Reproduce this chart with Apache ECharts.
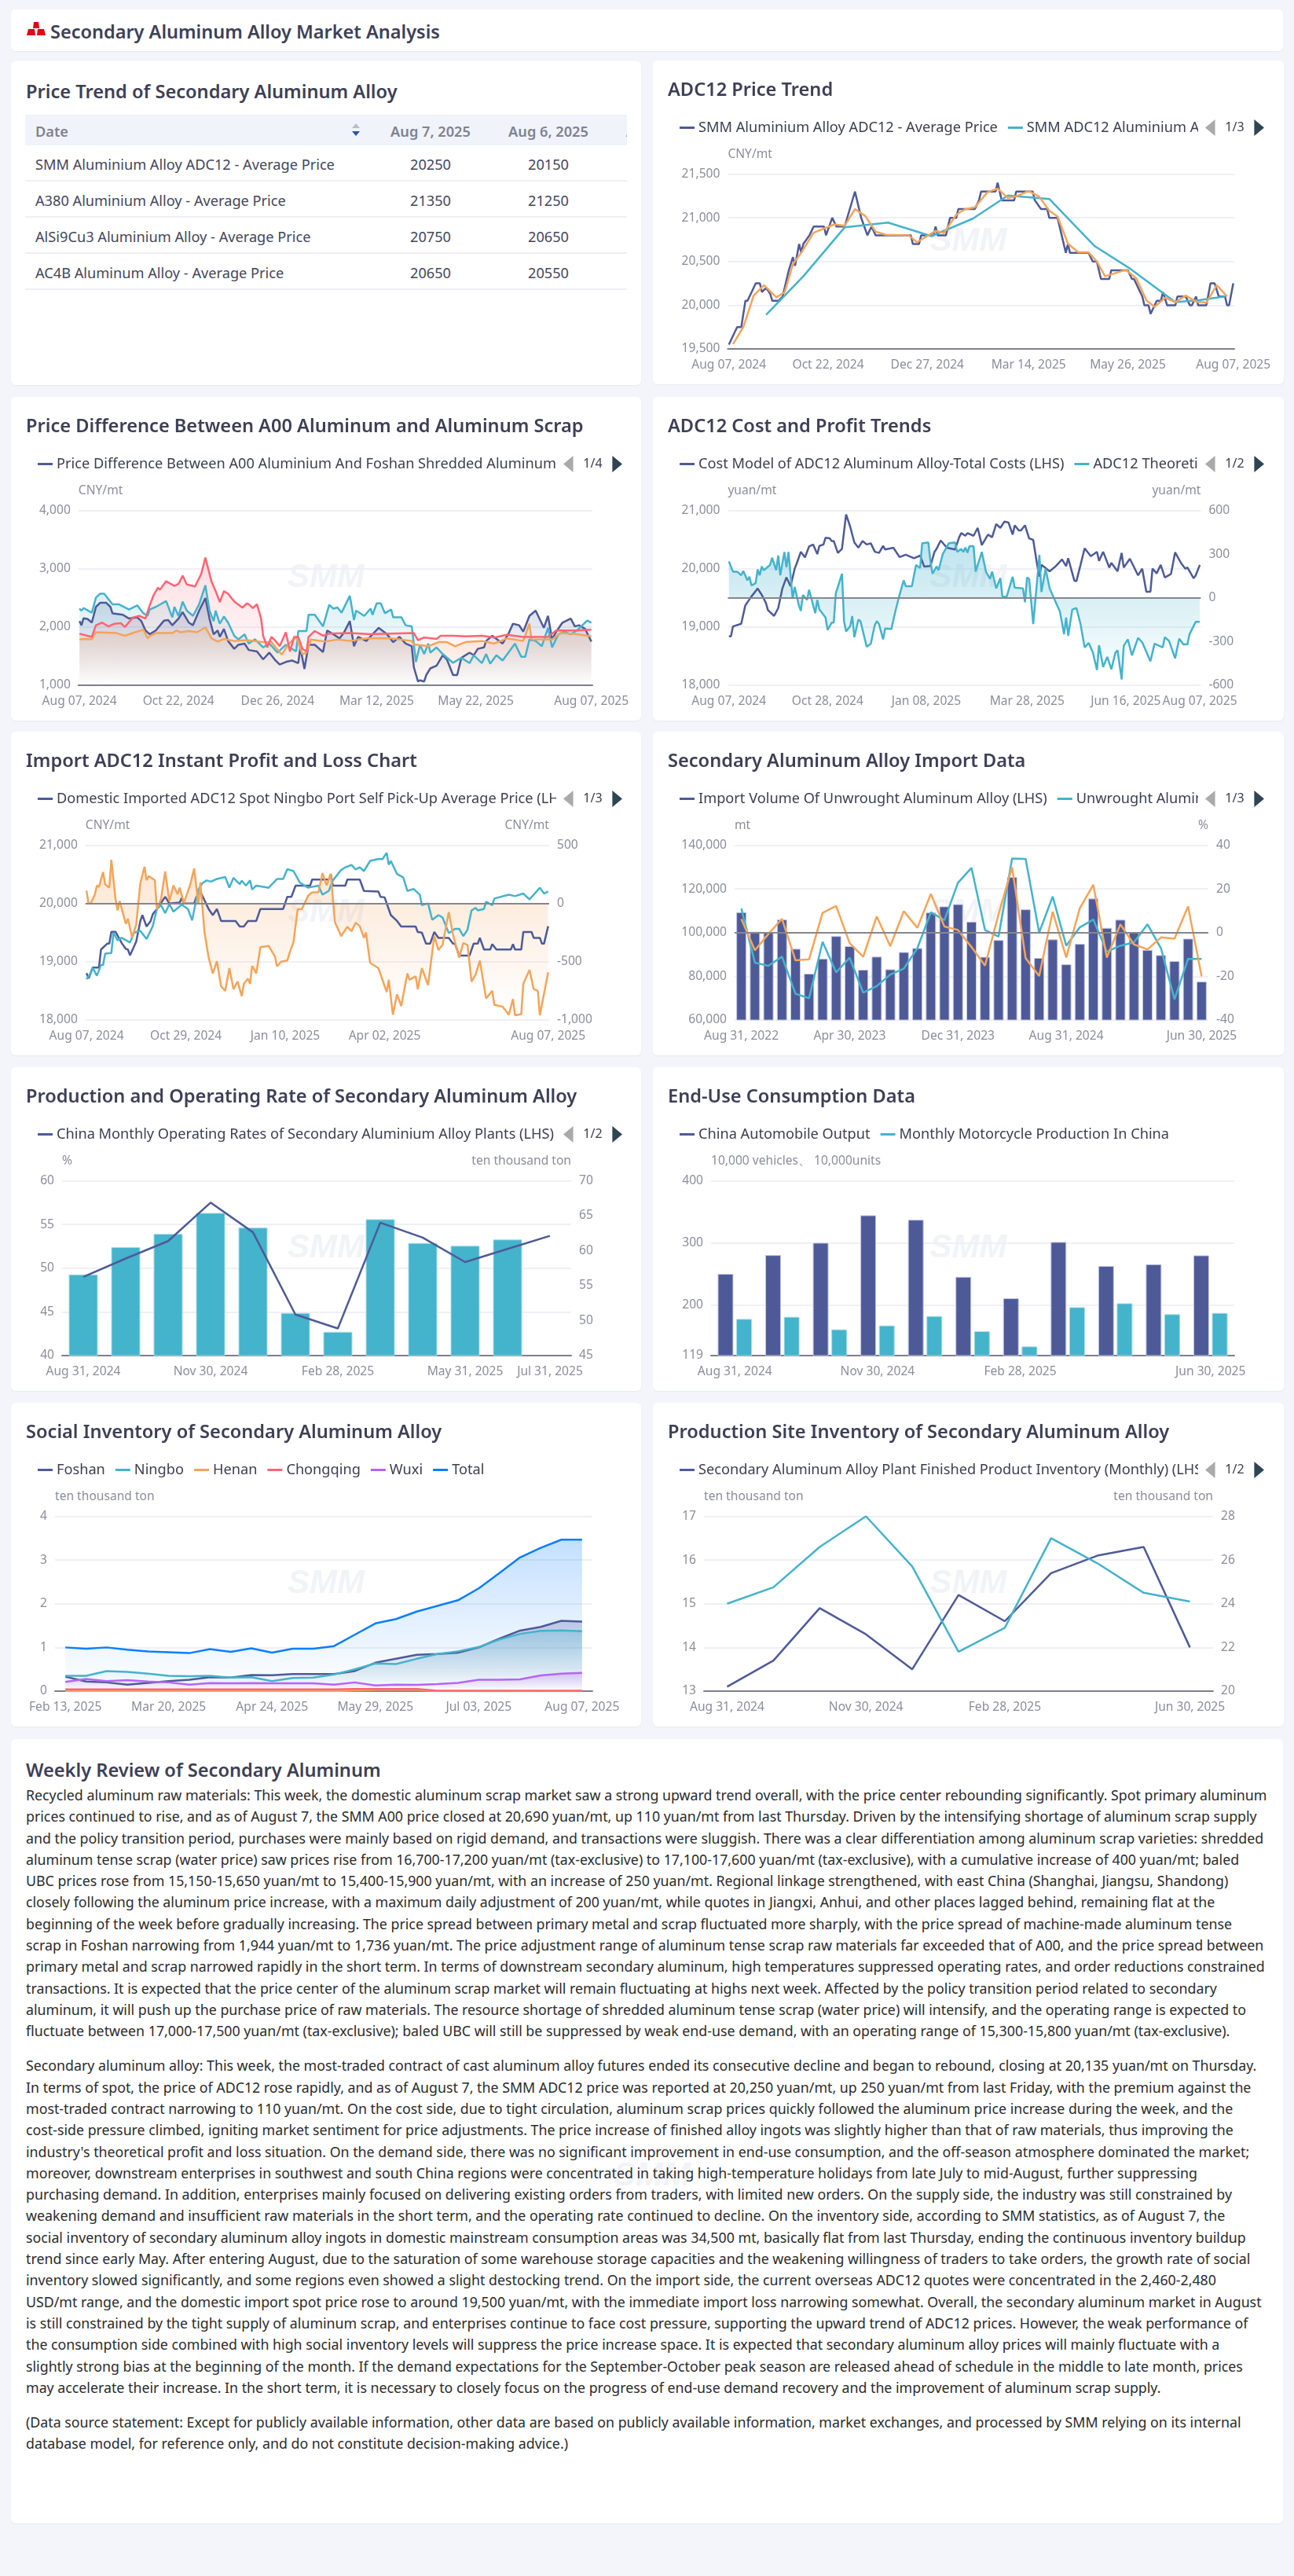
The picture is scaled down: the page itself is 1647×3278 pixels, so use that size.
<!DOCTYPE html>
<html>
<head>
<meta charset="utf-8">
<title>Secondary Aluminum Alloy Market Analysis</title>
<script src="https://cdn.jsdelivr.net/npm/echarts@6/dist/echarts.min.js"></script>
<style>
  html, body { margin: 0; padding: 0; background: #f3f5fa; }
  body { position: relative; width: 1647px; height: 3278px; overflow: hidden; font-family: "Noto Sans", sans-serif; color: #3d3f56; }
  .card { position: absolute; background: #fff; border-radius: 6px; box-shadow: 0 1px 2px rgba(60, 70, 120, .06); overflow: hidden; }
  .left { left: 14px; width: 802px; }
  .right { left: 831px; width: 803px; }
  .chart { height: 412px; }
  .head { position: absolute; left: 50px; top: 13px; font-size: 23.5px; font-weight: 600; white-space: nowrap; line-height: 30px; }
  .ttl { position: absolute; left: 19px; top: 23px; font-size: 23.6px; font-weight: 600; white-space: nowrap; line-height: 30px; }
  #tableBox { position: absolute; left: 18px; top: 68px; width: 766px; overflow: hidden; }
  #tableBox table { border-collapse: collapse; table-layout: fixed; width: 891px; font-size: 18.2px; color: #44465a; }
  #tableBox th { height: 36px; padding: 3px 0 0 0; background: #f0f3fa; color: #80828f; font-weight: 600; text-align: center; }
  #tableBox td { height: 41px; padding: 3px 0 0 0; border-bottom: 2px solid #eef0f4; text-align: center; }
  #tableBox th:first-child, #tableBox td:first-child { text-align: left; padding-left: 13px; }
  .sort { position: absolute; left: 415px; top: 10px; }
  .mark { position: absolute; left: 767px; top: 530px; font: italic 900 42px "Liberation Sans", sans-serif; color: #f2f3f7; }
  .review { position: absolute; left: 19px; top: 58px; font-size: 17.8px; line-height: 27.3px; color: #2b2b2b; white-space: nowrap; }
  .review p { margin: 0 0 16.8px 0; }
</style>
</head>
<body>
<div class="card" style="left:14px;top:12px;width:1619px;height:53px">
  <svg style="position:absolute;left:20px;top:16px" width="24" height="18" viewBox="0 0 24 18">
    <polygon points="9,0 15,0 16,8 8,8" fill="#e60012"/>
    <polygon points="2,9 10,9 11,17 0,17" fill="#e60012"/>
    <polygon points="14,9 22,9 24,17 13,17" fill="#e60012"/>
  </svg>
  <div class="head">Secondary Aluminum Alloy Market Analysis</div>
</div>
<div class="card left" style="top:78px;height:412px">
  <div class="ttl">Price Trend of Secondary Aluminum Alloy</div>
  <div id="tableBox"></div>
</div>
<div class="card right chart" style="top:77px" id="adcTrend"></div>
<div class="card left chart" style="top:505px" id="priceDiff"></div>
<div class="card right chart" style="top:505px" id="costProfit"></div>
<div class="card left chart" style="top:931px" id="importPL"></div>
<div class="card right chart" style="top:931px" id="importData"></div>
<div class="card left chart" style="top:1358px" id="operating"></div>
<div class="card right chart" style="top:1358px" id="endUse"></div>
<div class="card left chart" style="top:1785px" id="socialInv"></div>
<div class="card right chart" style="top:1785px" id="plantInv"></div>
<div class="card" style="left:14px;top:2213px;width:1619px;height:998px">
  <div class="mark">SMM</div>
  <div class="ttl" style="top:24px">Weekly Review of Secondary Aluminum</div>
  <div class="review">
    <p>Recycled aluminum raw materials: This week, the domestic aluminum scrap market saw a strong upward trend overall, with the price center rebounding significantly. Spot primary aluminum<br>
    prices continued to rise, and as of August 7, the SMM A00 price closed at 20,690 yuan/mt, up 110 yuan/mt from last Thursday. Driven by the intensifying shortage of aluminum scrap supply<br>
    and the policy transition period, purchases were mainly based on rigid demand, and transactions were sluggish. There was a clear differentiation among aluminum scrap varieties: shredded<br>
    aluminum tense scrap (water price) saw prices rise from 16,700-17,200 yuan/mt (tax-exclusive) to 17,100-17,600 yuan/mt (tax-exclusive), with a cumulative increase of 400 yuan/mt; baled<br>
    UBC prices rose from 15,150-15,650 yuan/mt to 15,400-15,900 yuan/mt, with an increase of 250 yuan/mt. Regional linkage strengthened, with east China (Shanghai, Jiangsu, Shandong)<br>
    closely following the aluminum price increase, with a maximum daily adjustment of 200 yuan/mt, while quotes in Jiangxi, Anhui, and other places lagged behind, remaining flat at the<br>
    beginning of the week before gradually increasing. The price spread between primary metal and scrap fluctuated more sharply, with the price spread of machine-made aluminum tense<br>
    scrap in Foshan narrowing from 1,944 yuan/mt to 1,736 yuan/mt. The price adjustment range of aluminum tense scrap raw materials far exceeded that of A00, and the price spread between<br>
    primary metal and scrap narrowed rapidly in the short term. In terms of downstream secondary aluminum, high temperatures suppressed operating rates, and order reductions constrained<br>
    transactions. It is expected that the price center of the aluminum scrap market will remain fluctuating at highs next week. Affected by the policy transition period related to secondary<br>
    aluminum, it will push up the purchase price of raw materials. The resource shortage of shredded aluminum tense scrap (water price) will intensify, and the operating range is expected to<br>
    fluctuate between 17,000-17,500 yuan/mt (tax-exclusive); baled UBC will still be suppressed by weak end-use demand, with an operating range of 15,300-15,800 yuan/mt (tax-exclusive).</p>
    <p>Secondary aluminum alloy: This week, the most-traded contract of cast aluminum alloy futures ended its consecutive decline and began to rebound, closing at 20,135 yuan/mt on Thursday.<br>
    In terms of spot, the price of ADC12 rose rapidly, and as of August 7, the SMM ADC12 price was reported at 20,250 yuan/mt, up 250 yuan/mt from last Friday, with the premium against the<br>
    most-traded contract narrowing to 110 yuan/mt. On the cost side, due to tight circulation, aluminum scrap prices quickly followed the aluminum price increase during the week, and the<br>
    cost-side pressure climbed, igniting market sentiment for price adjustments. The price increase of finished alloy ingots was slightly higher than that of raw materials, thus improving the<br>
    industry's theoretical profit and loss situation. On the demand side, there was no significant improvement in end-use consumption, and the off-season atmosphere dominated the market;<br>
    moreover, downstream enterprises in southwest and south China regions were concentrated in taking high-temperature holidays from late July to mid-August, further suppressing<br>
    purchasing demand. In addition, enterprises mainly focused on delivering existing orders from traders, with limited new orders. On the supply side, the industry was still constrained by<br>
    weakening demand and insufficient raw materials in the short term, and the operating rate continued to decline. On the inventory side, according to SMM statistics, as of August 7, the<br>
    social inventory of secondary aluminum alloy ingots in domestic mainstream consumption areas was 34,500 mt, basically flat from last Thursday, ending the continuous inventory buildup<br>
    trend since early May. After entering August, due to the saturation of some warehouse storage capacities and the weakening willingness of traders to take orders, the growth rate of social<br>
    inventory slowed significantly, and some regions even showed a slight destocking trend. On the import side, the current overseas ADC12 quotes were concentrated in the 2,460-2,480<br>
    USD/mt range, and the domestic import spot price rose to around 19,500 yuan/mt, with the immediate import loss narrowing somewhat. Overall, the secondary aluminum market in August<br>
    is still constrained by the tight supply of aluminum scrap, and enterprises continue to face cost pressure, supporting the upward trend of ADC12 prices. However, the weak performance of<br>
    the consumption side combined with high social inventory levels will suppress the price increase space. It is expected that secondary aluminum alloy prices will mainly fluctuate with a<br>
    slightly strong bias at the beginning of the month. If the demand expectations for the September-October peak season are released ahead of schedule in the middle to late month, prices<br>
    may accelerate their increase. In the short term, it is necessary to closely focus on the progress of end-use demand recovery and the improvement of aluminum scrap supply.</p>
    <p>(Data source statement: Except for publicly available information, other data are based on publicly available information, market exchanges, and processed by SMM relying on its internal<br>
    database model, for reference only, and do not constitute decision-making advice.)</p>
  </div>
</div>

<script>
// 价格表
var tableDates = ["Aug 7, 2025", "Aug 6, 2025", "Aug 5, 2025"];
var tableNames = ["SMM Aluminium Alloy ADC12 - Average Price", "A380 Aluminium Alloy - Average Price", "AlSi9Cu3 Aluminium Alloy - Average Price", "AC4B Aluminum Alloy - Average Price"];
var tableCol1 = [20250, 21350, 20750, 20650];
var tableCol2 = [20150, 21250, 20650, 20550];
var tableCol3 = [20050, 21150, 20550, 20450];

// ADC12 Price Trend (x = trading day index)
var adcTicks = ["Aug 07, 2024", "Oct 22, 2024", "Dec 27, 2024", "Mar 14, 2025", "May 26, 2025", "Aug 07, 2025"];
var adcTickDays = [0, 48, 96, 145, 193, 244];
var adcAvgDays = [0,2,4,6,8,9,11,13,15,16,18,20,21,24,26,29,31,32,34,35,36,39,41,46,47,50,52,56,61,64,67,69,71,88,89,92,93,99,100,101,105,107,110,111,119,121,122,129,130,132,138,139,147,148,151,154,155,159,161,163,164,165,174,176,178,180,184,185,193,195,196,198,200,201,203,204,207,209,210,212,216,217,221,223,224,226,227,231,233,235,237,240,241,242,244];
var adcAvg = [19550,19650,19750,19750,20050,20050,20150,20250,20250,20150,20200,20130,20050,20050,20100,20400,20550,20450,20700,20600,20700,20800,20900,20900,20800,21000,20900,20900,21300,21000,20800,20900,20800,20800,20700,20700,20800,20800,20900,20800,20800,21000,21000,21100,21100,21200,21300,21300,21400,21200,21200,21300,21300,21200,21100,21100,21000,21000,20800,20600,20700,20600,20600,20500,20500,20300,20300,20400,20400,20300,20300,20200,20100,20000,20000,19900,20050,20050,20150,20000,20000,20100,20100,20000,20000,20100,20000,20000,20250,20250,20100,20100,20000,20000,20250];
var adcMonthDays = [18,36,56,77,98,118,135,155,177,194,216,228,240];
var adcMonth = [19890,20330,20890,20945,20790,20990,21255,21215,20675,20420,20035,20060,20100];
var adcWeekDays = [2,7,12,17,23,27,31,35,41,51,56,61,66,71,76,87,91,100,104,110,114,119,125,130,135,139,145,150,155,159,164,169,174,178,182,192,197,202,206,211,216,221,226,231,236,241];
var adcWeek = [19555,19750,20110,20230,20090,20150,20470,20600,20830,20925,20910,21100,21020,20840,20805,20800,20720,20850,20825,21035,21095,21120,21290,21335,21225,21245,21305,21245,21080,21015,20705,20605,20605,20500,20330,20405,20310,20055,19980,20085,20035,20110,20040,20030,20230,20100];

// Price Difference Between A00 Aluminum and Aluminum Scrap
var diffTicks = ["Aug 07, 2024", "Oct 22, 2024", "Dec 26, 2024", "Mar 12, 2025", "May 22, 2025", "Aug 07, 2025"];
var diffTickDays = [0, 48, 96, 144, 192, 248];
var diffShredDays = [0,1,2,4,6,8,10,13,15,16,21,24,28,30,32,34,37,41,43,45,48,50,53,55,58,61,63,65,67,68,70,72,75,77,80,82,86,89,92,95,97,100,103,106,107,109,111,114,118,120,123,126,128,131,133,135,139,142,145,149,152,155,158,161,162,164,165,167,168,170,173,176,178,181,183,185,189,191,193,196,197,200,205,208,210,213,215,218,221,225,227,229,231,234,238,240,242,245,248];
var diffShred = [2100,2030,2150,2135,2075,2345,2415,2415,2345,2235,2210,2145,2165,2100,1940,1875,1940,2110,2120,2030,2145,2255,2075,2030,2280,2495,2145,1875,1940,1830,1965,1760,1625,1695,1715,1605,1580,1445,1560,1425,1355,1400,1425,1380,1650,1280,1695,1695,1570,1940,1875,1805,1895,2100,1670,1830,1760,1875,1985,1875,1740,1830,1715,1670,1310,1065,1085,1065,1175,1290,1335,1515,1445,1175,1175,1470,1560,1515,1625,1650,1760,1850,1715,1895,2055,2030,1920,2190,2280,1985,2190,1785,1920,2075,2145,2010,2030,1965,1750];
var diffBaledDays = [0,1,2,6,8,10,12,16,19,24,28,31,33,34,37,42,45,46,48,50,52,55,58,61,63,65,66,68,70,72,75,77,80,82,85,89,92,96,100,105,106,110,111,114,118,121,123,125,127,131,133,134,138,141,142,144,146,148,151,152,156,158,161,163,165,167,169,170,173,176,181,185,189,191,195,197,199,202,205,211,214,216,218,221,224,227,229,232,235,238,241,246,248];
var diffBaled = [2315,2280,2325,2245,2505,2570,2570,2390,2390,2300,2370,2235,2190,2300,2345,2445,2165,2345,2190,2435,2280,2190,2390,2715,2280,2100,2280,2055,2180,2075,1850,1785,1875,1715,1790,1650,1715,1560,1695,1580,1930,1930,2210,2210,2010,2380,2315,2335,2245,2535,2120,2280,2190,2315,2210,2405,2405,2235,2300,2165,2165,2030,2010,1400,1695,1535,1715,1560,1650,1535,1385,1470,1380,1515,1380,1535,1370,1515,1425,1715,1490,1490,1785,1760,1670,1985,1650,1875,1920,1875,1940,2110,2075];
var diffTenseDays = [0,2,6,8,13,18,22,27,31,33,34,37,41,45,47,49,53,57,61,64,67,70,75,81,89,93,98,101,105,108,110,112,119,125,131,139,151,161,162,169,174,178,182,187,195,201,207,215,218,219,229,233,241,248];
var diffTense = [1785,1795,1790,1910,1905,1895,1850,1910,1955,1805,1840,1895,1895,1895,1940,1910,1930,1910,1995,1805,1750,1795,1760,1775,1740,1740,1525,1695,1830,1535,1560,1785,1750,1785,1760,1805,1805,1760,1700,1670,1740,1740,1670,1740,1760,1715,1805,1760,2055,1785,1785,1895,1875,1840];
var diffOtherDays = [0,6,8,11,14,17,20,22,26,29,32,34,36,38,39,42,46,48,50,52,56,59,61,64,66,68,70,72,75,79,81,82,84,86,88,89,91,93,95,97,100,102,104,106,108,110,111,114,118,121,131,141,151,162,164,167,173,175,181,187,195,201,207,215,227,231,241,248];
var diffOther = [1885,1830,2030,2075,2010,2055,2065,2000,2165,2190,2145,2370,2550,2675,2640,2785,2705,2740,2880,2730,2695,2910,3190,2775,2615,2430,2615,2570,2435,2330,2405,2390,2325,2390,2145,1850,1650,1830,1760,1670,1910,1580,1830,1830,1625,1580,1830,1930,1850,1885,1895,1875,1885,1895,1775,1820,1795,1850,1850,1840,1850,1820,1865,1830,1830,1940,1940,1955];

// ADC12 Cost and Profit Trends
var costTicks = ["Aug 07, 2024", "Oct 28, 2024", "Jan 08, 2025", "Mar 28, 2025", "Jun 16, 2025", "Aug 07, 2025"];
var costTickDays = [0, 48, 96, 145, 193, 229];
var costDays = [0,1,2,6,8,11,13,14,16,18,19,22,24,26,28,30,32,33,35,37,39,41,43,44,46,47,49,50,51,53,55,57,59,61,63,65,67,69,71,73,75,76,80,83,86,90,93,95,98,100,101,103,106,110,112,113,115,116,119,121,123,126,128,130,132,134,136,138,139,141,142,144,146,148,150,151,152,156,159,162,164,165,168,169,171,173,176,179,180,182,185,186,189,191,192,195,199,201,203,205,206,208,210,212,215,217,220,222,223,226,227,229];
var costTotal = [18840,18840,19010,19055,19370,19525,19615,19660,19550,19415,19290,19190,19325,19660,19850,19700,20000,20090,20290,20195,20380,20415,20250,20390,20415,20530,20520,20475,20475,20270,20340,20930,20720,20450,20360,20475,20415,20435,20290,20270,20390,20330,20360,20200,20240,20180,20225,20035,20045,20290,20340,20485,20360,20330,20540,20610,20565,20610,20565,20700,20405,20585,20540,20765,20700,20810,20790,20585,20745,20655,20655,20745,20520,20495,20045,19865,20065,19955,20045,20160,20045,20180,19795,19785,20065,20350,20215,20290,20135,20290,20020,20100,19955,20270,20020,20170,19885,20000,19605,19605,20000,19920,20065,19850,19910,20280,20090,20000,20020,19835,19885,20065];
var profitDays = [0,2,4,6,7,9,10,11,13,14,15,16,17,20,21,23,24,25,27,28,29,31,32,34,35,36,38,39,42,43,44,47,48,50,51,52,55,56,57,59,60,61,63,64,67,69,71,72,73,75,76,79,81,83,85,86,89,91,93,94,97,98,99,101,102,104,107,110,111,113,114,115,116,117,119,120,123,125,127,128,130,132,133,135,138,139,143,144,145,146,148,150,151,152,154,156,158,161,163,164,165,167,169,171,173,175,177,179,180,182,184,186,188,189,191,192,194,196,199,201,205,207,211,212,214,217,219,221,223,224,227,229];
var profit = [250,180,180,155,185,120,145,85,100,195,155,215,190,225,275,190,290,155,315,210,315,-5,75,-50,-90,20,-15,55,-105,-15,-80,-135,-220,-170,-170,30,165,-160,-230,-195,-125,-270,-150,-160,-335,-315,-185,-160,-180,-285,-210,-215,-90,20,120,80,80,225,205,375,380,255,165,215,190,300,375,380,315,335,315,345,310,355,355,180,315,180,130,180,65,135,10,5,145,70,65,-30,140,130,-180,135,295,40,200,65,0,-95,-250,-135,-260,-80,-70,-180,-340,-310,-375,-495,-325,-475,-405,-490,-375,-360,-560,-330,-285,-395,-275,-305,-435,-315,-340,-270,-295,-415,-280,-320,-320,-250,-165,-165];

// Import ADC12 Instant Profit and Loss Chart
var plTicks = ["Aug 07, 2024", "Oct 29, 2024", "Jan 10, 2025", "Apr 02, 2025", "Aug 07, 2025"];
var plTickDays = [0, 48, 96, 144, 223];
var ningboDays = [0,1,3,6,7,10,11,12,14,17,19,20,21,24,26,27,29,31,32,34,38,40,45,46,47,52,53,55,59,61,63,65,72,74,76,78,82,84,95,97,99,101,108,109,117,118,119,125,126,132,134,141,142,144,147,150,152,159,160,162,164,166,168,170,175,177,178,180,185,187,189,190,192,195,196,198,205,206,207,210,211,215,216,219,220,221,223];
var ningbo = [18805,18715,18900,18900,19210,19310,19310,19515,19515,19320,19220,19210,19110,19345,19700,19800,19605,19700,19815,19905,20115,20000,20015,20095,20000,20000,20105,20205,19905,19800,19905,19700,19700,19605,19605,19700,19700,19905,19905,20115,20115,20305,20305,20410,20410,20500,20305,20305,20410,20410,20215,20205,20115,20105,19800,19700,19605,19605,19510,19500,19310,19310,19510,19410,19410,19310,19310,19105,19105,19310,19310,19410,19210,19210,19300,19210,19210,19300,19210,19210,19510,19510,19410,19410,19310,19310,19610];
var importCostDays = [0,2,3,5,7,8,9,12,13,15,17,21,23,26,29,32,34,36,38,40,42,46,49,51,54,56,58,60,63,67,69,71,74,75,77,79,80,82,88,92,95,97,100,103,107,112,114,117,119,123,125,128,130,132,134,137,141,143,145,146,147,150,153,155,158,161,162,165,167,170,172,175,178,180,182,184,186,188,189,192,193,196,197,204,207,211,214,219,221,223];
var importCost = [18700,18805,18895,18760,18945,18945,19140,19150,19500,19365,19410,19330,19500,19530,19390,19610,19905,19970,19835,19990,19860,19980,19905,19710,20240,20350,20395,20375,20420,20455,20270,20440,20330,20390,20305,20395,20240,20305,20270,20420,20420,20590,20555,20360,20270,20305,20150,20215,20395,20575,20620,20660,20585,20620,20555,20730,20765,20760,20870,20665,20730,20505,20445,20215,20250,20150,19970,20000,19720,19800,19760,19490,19565,19565,19440,19545,19880,19925,19880,19905,20030,19970,20085,20150,20125,20170,20070,20270,20170,20205];
var importPLDays = [0,1,2,4,5,6,8,9,11,12,14,15,16,19,20,22,24,26,28,29,30,33,34,36,38,40,42,44,45,47,50,52,54,55,57,59,61,63,65,67,69,71,73,75,76,78,79,80,82,84,88,91,92,94,97,98,100,102,104,107,109,112,114,116,118,120,123,126,128,130,132,134,135,137,141,145,146,148,150,152,155,156,159,160,162,165,168,170,172,175,177,180,182,184,186,188,190,193,196,197,201,204,206,207,210,211,214,216,218,219,223];
var importPL = [110,0,0,75,155,140,270,165,135,375,40,-60,20,-175,-130,-290,-185,175,315,200,235,200,-50,40,275,20,155,80,135,5,155,300,-5,180,-250,-465,-600,-495,-710,-750,-555,-735,-670,-795,-690,-645,-690,-535,-600,-375,-365,-455,-540,-500,-490,-430,-330,-50,-50,65,95,95,260,155,255,-160,-280,-200,-240,-165,-195,-295,-250,-510,-555,-760,-655,-955,-780,-880,-600,-655,-625,-735,-555,-700,-280,-400,-355,-75,-265,-465,-340,-355,-670,-610,-490,-815,-750,-870,-885,-955,-820,-960,-950,-690,-570,-735,-750,-960,-590];

// Secondary Aluminum Alloy Import Data (35 months)
var importTicks = ["Aug 31, 2022", "Apr 30, 2023", "Dec 31, 2023", "Aug 31, 2024", "Jun 30, 2025"];
var importTickMonths = [0, 8, 16, 24, 34];
var importVolume = [109340,100360,100000,106000,92600,81200,88100,98400,93800,83000,89000,83200,91100,92900,109200,112000,113000,105000,88900,96600,125400,110650,88400,96900,85500,94850,115600,102150,105900,99900,92100,89700,86950,97250,77600];
var importYoy = [11,-13.8,-15.2,-11,-28,-30,-4.2,-18.2,-11.5,-27.5,-24.5,-19.2,-16.5,-7.2,9.3,5.7,22.8,29.6,1.2,-1.8,33.9,33.7,0,16.5,-6,2.4,6,-8.7,-6,-4.5,3.8,-7.2,-30.5,-12,-12];
var importMom = [6.2,-8.1,-0.6,6.3,-12.7,-12.2,9,12.2,-4.8,-11.1,7.4,-6.2,9.8,2.2,17.7,2.8,1.2,-6.6,-15.1,8.4,29.9,-11.7,-19.9,9.6,-11.4,11.1,21.9,-11.4,3.8,-5.4,-7.7,-2.2,-2.8,12,-20];

// Production and Operating Rate of Secondary Aluminum Alloy (12 months)
var opTicks = ["Aug 31, 2024", "Nov 30, 2024", "Feb 28, 2025", "May 31, 2025", "Jul 31, 2025"];
var opTickMonths = [0, 3, 6, 9, 11];
var opRate = [49,51.1,53.1,57.5,54.1,44.7,43.1,55.2,53.5,50.7,52.2,53.7];
var opOutput = [56.6,60.5,62.4,65.4,63.3,51.1,48.4,64.5,61.1,60.7,61.6,null];

// End-Use Consumption Data (11 months)
var endTicks = ["Aug 31, 2024", "Nov 30, 2024", "Feb 28, 2025", "Jun 30, 2025"];
var endTickMonths = [0, 3, 6, 10];
var endAxisTicks = [119, 200, 300, 400];
var autoOutput = [250.3,280.5,300.3,344.5,337.3,245.6,211.1,301.6,262.9,265.8,280.1];
var motoOutput = [177.9,181.3,161.1,167.4,182.5,158.1,133.7,196.8,203.1,185.5,187.6];

// Social Inventory of Secondary Aluminum Alloy (26 weeks)
var socialTicks = ["Feb 13, 2025", "Mar 20, 2025", "Apr 24, 2025", "May 29, 2025", "Jul 03, 2025", "Aug 07, 2025"];
var socialTickWeeks = [0, 5, 10, 15, 20, 25];
var foshan = [0.33,0.22,0.2,0.15,0.19,0.23,0.26,0.32,0.31,0.37,0.365,0.39,0.39,0.39,0.46,0.65,0.74,0.83,0.85,0.88,1,1.2,1.385,1.47,1.61,1.59];
var ningboInv = [0.35,0.35,0.46,0.44,0.4,0.35,0.34,0.35,0.31,0.32,0.23,0.3,0.31,0.38,0.5,0.635,0.62,0.74,0.85,0.91,1.01,1.18,1.31,1.38,1.39,1.37];
var henan = [0,0,0,0,0,0,0,0,0,0,0,0,0,0,0.02,0.03,0.03,0.03,0,0,0,0,0,0,0,0];
var chongqing = [0.04,0.04,0.04,0.04,0.04,0.04,0.04,0.04,0.04,0.04,0.04,0.04,0.04,0.04,0.05,0.05,0.05,0.05,0.01,0.01,0.01,0.01,0.01,0.01,0.01,0.01];
var wuxi = [0.21,0.28,0.23,0.25,0.22,0.2,0.15,0.185,0.18,0.185,0.18,0.18,0.18,0.15,0.2,0.13,0.15,0.145,0.16,0.19,0.26,0.26,0.27,0.36,0.4,0.42];
var socialTotal = [1,0.97,1,0.95,0.91,0.89,0.87,0.96,0.9,0.98,0.88,0.97,0.97,1.03,1.29,1.55,1.65,1.82,1.95,2.08,2.35,2.7,3.06,3.28,3.465,3.465];

// Production Site Inventory of Secondary Aluminum Alloy (11 months)
var plantTicks = ["Aug 31, 2024", "Nov 30, 2024", "Feb 28, 2025", "Jun 30, 2025"];
var plantTickMonths = [0, 3, 6, 10];
var plantFinished = [13.1,13.7,14.9,14.3,13.5,15.2,14.6,15.7,16.1,16.3,14];
var plantRaw = [24,24.75,26.6,28,25.7,21.8,22.9,27,25.85,24.5,24.1];

var BLUE = "#4e5a98", TEAL = "#44b3cc", ORANGE = "#f4a45a", RED = "#ff6474", PURPLE = "#b565f5", BRIGHT = "#0a7eff";
var LABEL = "#8b8d9b";

var rows = '<tr><th>Date<svg class="sort" width="12" height="20"><polygon points="6,1 11,7 1,7" fill="#bbbdc6"/><polygon points="1,11 11,11 6,17" fill="#2d52a8"/></svg></th>';
tableDates.forEach(function (d) { rows += "<th>" + d + "</th>"; });
rows += "</tr>";
tableNames.forEach(function (n, i) {
  rows += "<tr><td>" + n + "</td><td>" + tableCol1[i] + "</td><td>" + tableCol2[i] + "</td><td>" + tableCol3[i] + "</td></tr>";
});
document.getElementById("tableBox").innerHTML =
  '<table><colgroup><col style="width:441px"><col style="width:150px"><col style="width:150px"><col style="width:150px"></colgroup>' + rows + "</table>";
document.querySelector("#tableBox th").style.position = "relative";

function zip(days, vals) {
  return days.map(function (d, i) { return [d, vals[i]]; });
}

// 渐变面积
function fade(hex, alpha) {
  var r = parseInt(hex.slice(1, 3), 16), g = parseInt(hex.slice(3, 5), 16), b = parseInt(hex.slice(5, 7), 16);
  return new echarts.graphic.LinearGradient(0, 0, 0, 1, [
    { offset: 0, color: "rgba(" + r + "," + g + "," + b + "," + alpha + ")" },
    { offset: 1, color: "rgba(" + r + "," + g + "," + b + ",0)" },
  ]);
}

function xAxis(count, tickIdx, ticks, showLine) {
  var cats = [];
  for (var i = 0; i < count; i++) {
    var p = tickIdx.indexOf(i);
    cats.push(p >= 0 ? ticks[p] : "");
  }
  return {
    type: "category",
    data: cats,
    boundaryGap: true,
    axisTick: { show: false },
    axisLine: { show: showLine !== false, onZero: false, lineStyle: { color: "#7d7f8c", width: 2 } },
    axisLabel: {
      color: LABEL,
      fontSize: 15.6,
      margin: 13,
      interval: function (idx) { return tickIdx.indexOf(idx) >= 0; },
    },
  };
}

function yAxis(min, max, interval, name, side, split) {
  return {
    type: "value",
    min: min,
    max: max,
    interval: interval,
    name: name,
    position: side,
    nameGap: 17,
    nameTextStyle: { color: LABEL, fontSize: 15.6, align: side == "right" ? "right" : "left" },
    axisLine: { show: false },
    axisTick: { show: false },
    axisLabel: { color: LABEL, fontSize: 15.6, margin: 10 },
    splitLine: { show: split !== false, lineStyle: { color: "#eff0f7", width: 2 } },
  };
}

function line(name, color, data, axisIndex, alpha) {
  var s = {
    name: name,
    type: "line",
    data: data,
    yAxisIndex: axisIndex || 0,
    showSymbol: false,
    lineStyle: { color: color, width: 2.5 },
    itemStyle: { color: color },
    z: 3,
  };
  if (alpha) s.areaStyle = { color: fade(color, alpha), origin: "auto" };
  return s;
}

function zeroLine() {
  return {
    silent: true,
    symbol: "none",
    label: { show: false },
    lineStyle: { color: "#85868f", width: 2, type: "solid" },
    data: [{ yAxis: 0 }],
  };
}

function draw(id, title, left, right, option) {
  var myChart = echarts.init(document.getElementById(id));
  option.animation = false;
  option.textStyle = { fontFamily: '"Noto Sans", sans-serif' };
  option.title = { text: title, left: 19, top: 26, padding: 0, textStyle: { fontSize: 23.6, fontWeight: 600, color: "#3d3f56" } };
  option.grid = { left: left, right: right, top: 144.5, height: 222.5 };
  option.legend = {
    type: "scroll",
    left: 29,
    top: 70,
    width: 744,
    icon: "rect",
    itemWidth: 19,
    itemHeight: 3,
    itemGap: 13,
    itemStyle: { borderWidth: 0 },
    pageButtonGap: 9,
    pageIconSize: 21,
    pageIconColor: "#2f4554",
    pageIconInactiveColor: "#aaa",
    pageTextStyle: { color: "#3c3e50", fontSize: 16 },
    textStyle: { color: "#3c3e50", fontSize: 18.2 },
  };
  option.graphic = [
    {
      type: "text",
      left: "center",
      top: 209,
      z: -1,
      silent: true,
      style: { text: "SMM", font: 'italic 900 42px "Liberation Sans", sans-serif', fill: "#f2f3f7" },
    },
  ];
  myChart.setOption(option);
  window.addEventListener("resize", function () {
    myChart.resize();
  });
}

// ADC12 价格走势
draw("adcTrend", "ADC12 Price Trend", 95.4, 63, {
  xAxis: xAxis(245, adcTickDays, adcTicks),
  yAxis: yAxis(19500, 21500, 500, "CNY/mt", "left"),
  series: [
    line("SMM Aluminium Alloy ADC12 - Average Price", BLUE, zip(adcAvgDays, adcAvg)),
    line("SMM ADC12 Aluminium Alloy - Monthly Average Price", TEAL, zip(adcMonthDays, adcMonth)),
    line("SMM ADC12 Aluminium Alloy - Weekly Average Price", ORANGE, zip(adcWeekDays, adcWeek)),
  ],
});

// 价差
draw("priceDiff", "Price Difference Between A00 Aluminum and Aluminum Scrap", 85.8, 62, {
  xAxis: xAxis(249, diffTickDays, diffTicks),
  yAxis: yAxis(1000, 4000, 1000, "CNY/mt", "left"),
  series: [
    line("Price Difference Between A00 Aluminium And Foshan Shredded Aluminum Tense Scrap", BLUE, zip(diffShredDays, diffShred), 0, 0.3),
    line("Price Difference Between A00 Aluminium And Foshan Baled Aluminum Tense Scrap", TEAL, zip(diffBaledDays, diffBaled), 0, 0.3),
    line("Price Difference Between A00 Aluminium And Shanghai Machine-Made Aluminum Tense Scrap", ORANGE, zip(diffTenseDays, diffTense), 0, 0.3),
    line("Price Difference Between A00 Aluminium And Jiangsu Baled UBC Aluminum Scrap", RED, zip(diffOtherDays, diffOther), 0, 0.3),
  ],
});

// 成本利润
var profitSeries = line("ADC12 Theoretical Profit and Loss (RHS)", TEAL, zip(profitDays, profit), 1, 0.5);
profitSeries.markLine = zeroLine();
draw("costProfit", "ADC12 Cost and Profit Trends", 95.4, 105.6, {
  xAxis: xAxis(230, costTickDays, costTicks, false),
  yAxis: [yAxis(18000, 21000, 1000, "yuan/mt", "left"), yAxis(-600, 600, 300, "yuan/mt", "right", false)],
  series: [line("Cost Model of ADC12 Aluminum Alloy-Total Costs (LHS)", BLUE, zip(costDays, costTotal)), profitSeries],
});

// 进口盈亏
var plSeries = line("Import ADC12 Instant Profit and Loss (RHS)", ORANGE, zip(importPLDays, importPL), 1, 0.4);
plSeries.markLine = zeroLine();
draw("importPL", "Import ADC12 Instant Profit and Loss Chart", 94.8, 117, {
  xAxis: xAxis(224, plTickDays, plTicks, false),
  yAxis: [yAxis(18000, 21000, 1000, "CNY/mt", "left"), yAxis(-1000, 500, 500, "CNY/mt", "right", false)],
  series: [
    line("Domestic Imported ADC12 Spot Ningbo Port Self Pick-Up Average Price (LHS)", BLUE, zip(ningboDays, ningbo)),
    line("SMM Imported ADC12 Cost (LHS)", TEAL, zip(importCostDays, importCost)),
    plSeries,
  ],
});

// 进口数据
var momSeries = line("Unwrought Aluminum Alloy Import Volume MoM (RHS)", ORANGE, importMom, 1);
momSeries.markLine = zeroLine();
draw("importData", "Secondary Aluminum Alloy Import Data", 104, 96, {
  xAxis: xAxis(35, importTickMonths, importTicks, false),
  yAxis: [yAxis(60000, 140000, 20000, "mt", "left"), yAxis(-40, 40, 20, "%", "right", false)],
  series: [
    {
      name: "Import Volume Of Unwrought Aluminum Alloy (LHS)",
      type: "bar",
      data: importVolume,
      barWidth: 13,
      itemStyle: { color: BLUE, borderColor: "#c5c9e4", borderWidth: 1 },
    },
    line("Unwrought Aluminum Alloy Import Volume YoY (RHS)", TEAL, importYoy, 1),
    momSeries,
  ],
});

// 产量开工率
draw("operating", "Production and Operating Rate of Secondary Aluminum Alloy", 65, 89, {
  xAxis: xAxis(12, opTickMonths, opTicks),
  yAxis: [yAxis(40, 60, 5, "%", "left"), yAxis(45, 70, 5, "ten thousand ton", "right", false)],
  series: [
    line("China Monthly Operating Rates of Secondary Aluminium Alloy Plants (LHS)", BLUE, opRate),
    {
      name: "China Monthly Production of Secondary Aluminium Alloy (RHS)",
      type: "bar",
      yAxisIndex: 1,
      data: opOutput,
      barWidth: 37,
      z: 2,
      itemStyle: { color: TEAL, borderColor: "#a8dde8", borderWidth: 1 },
    },
  ],
});

// 终端消费
var endY = yAxis(119, 400, null, "10,000 vehicles、 10,000units", "left");
delete endY.interval;
endY.axisLabel.customValues = endAxisTicks;
endY.axisTick.customValues = endAxisTicks;
draw("endUse", "End-Use Consumption Data", 74, 63, {
  xAxis: xAxis(11, endTickMonths, endTicks),
  yAxis: endY,
  series: [
    {
      name: "China Automobile Output",
      type: "bar",
      data: autoOutput,
      barWidth: 20,
      barGap: "18%",
      itemStyle: { color: BLUE, borderColor: "#c5c9e4", borderWidth: 1 },
    },
    {
      name: "Monthly Motorcycle Production In China",
      type: "bar",
      data: motoOutput,
      barWidth: 20,
      itemStyle: { color: TEAL, borderColor: "#a8dde8", borderWidth: 1 },
    },
  ],
});

// 社会库存
draw("socialInv", "Social Inventory of Secondary Aluminum Alloy", 56, 62, {
  xAxis: xAxis(26, socialTickWeeks, socialTicks),
  yAxis: yAxis(0, 4, 1, "ten thousand ton", "left"),
  series: [
    line("Foshan", BLUE, foshan, 0, 0.4),
    line("Ningbo", TEAL, ningboInv, 0, 0.4),
    line("Henan", ORANGE, henan),
    line("Chongqing", RED, chongqing),
    line("Wuxi", PURPLE, wuxi, 0, 0.4),
    line("Total", BRIGHT, socialTotal, 0, 0.35),
  ],
});

// 厂内库存
draw("plantInv", "Production Site Inventory of Secondary Aluminum Alloy", 65, 90, {
  xAxis: xAxis(11, plantTickMonths, plantTicks),
  yAxis: [yAxis(13, 17, 1, "ten thousand ton", "left"), yAxis(20, 28, 2, "ten thousand ton", "right", false)],
  series: [
    line("Secondary Aluminum Alloy Plant Finished Product Inventory (Monthly) (LHS)", BLUE, plantFinished),
    line("Secondary Aluminum Alloy Plant Raw Material Inventory (Monthly) (RHS)", TEAL, plantRaw, 1),
  ],
});
</script>
</body>
</html>
